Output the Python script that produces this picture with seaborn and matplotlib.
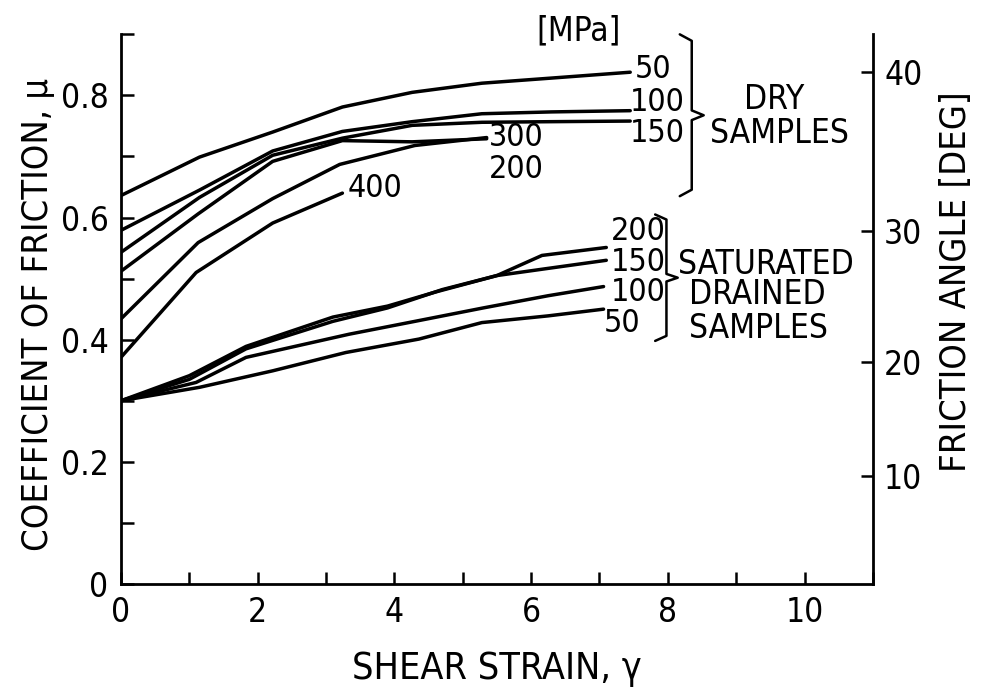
import numpy as np
import pandas as pd
import matplotlib
matplotlib.use("Agg")
import matplotlib.pyplot as plt
import seaborn as sns
from matplotlib import font_manager as fm

# ---------------- data ----------------
dry_50_x = [0, 1.15, 2.22, 3.24, 4.26, 5.28, 6.25, 7.45]
dry_50_y = [0.636, 0.699, 0.740, 0.781, 0.805, 0.820, 0.828, 0.838]
dry_100_x = [0, 1.15, 2.22, 3.24, 4.26, 5.28, 6.3, 7.45]
dry_100_y = [0.579, 0.645, 0.709, 0.741, 0.757, 0.770, 0.773, 0.775]
dry_150_x = [0, 1.15, 2.22, 3.24, 4.26, 5.28, 6.3, 7.45]
dry_150_y = [0.543, 0.633, 0.702, 0.730, 0.751, 0.756, 0.757, 0.758]
dry_200_x = [0, 1.13, 2.22, 3.24, 4.26, 5.35]
dry_200_y = [0.512, 0.606, 0.692, 0.726, 0.724, 0.729]
dry_300_x = [0, 1.13, 2.22, 3.2, 4.3, 5.35]
dry_300_y = [0.434, 0.559, 0.631, 0.687, 0.718, 0.731]
dry_400_x = [0, 1.1, 2.22, 3.24]
dry_400_y = [0.371, 0.510, 0.591, 0.640]

sat_50_x = [0, 1.15, 2.22, 3.29, 4.36, 5.28, 6.25, 7.06]
sat_50_y = [0.300, 0.322, 0.349, 0.379, 0.401, 0.428, 0.439, 0.450]
sat_100_x = [0, 1.1, 1.83, 3.34, 4.3, 5.3, 6.25, 7.06]
sat_100_y = [0.300, 0.330, 0.371, 0.409, 0.430, 0.452, 0.472, 0.487]
sat_150_x = [0, 1.0, 1.83, 3.1, 3.9, 4.7, 5.5, 6.2, 7.1]
sat_150_y = [0.300, 0.335, 0.385, 0.430, 0.452, 0.482, 0.505, 0.516, 0.530]
sat_200_x = [0, 1.0, 1.83, 3.1, 3.9, 4.6, 5.5, 6.16, 7.1]
sat_200_y = [0.300, 0.341, 0.389, 0.437, 0.455, 0.478, 0.505, 0.538, 0.551]

x_ticks = [0, 1, 2, 3, 4, 5, 6, 7, 8, 9, 10, 11]
x_labels = ["0", "", "2", "", "4", "", "6", "", "8", "", "10", ""]
y_ticks = [0, 0.1, 0.2, 0.3, 0.4, 0.5, 0.6, 0.7, 0.8, 0.9]
y_labels = ["0", "", "0.2", "", "0.4", "", "0.6", "", "0.8", ""]
angle_ticks = [10, 20, 30, 40]

series = {
    "dry 50": (dry_50_x, dry_50_y), "dry 100": (dry_100_x, dry_100_y),
    "dry 150": (dry_150_x, dry_150_y), "dry 200": (dry_200_x, dry_200_y),
    "dry 300": (dry_300_x, dry_300_y), "dry 400": (dry_400_x, dry_400_y),
    "sat 50": (sat_50_x, sat_50_y), "sat 100": (sat_100_x, sat_100_y),
    "sat 150": (sat_150_x, sat_150_y), "sat 200": (sat_200_x, sat_200_y),
}
rows = []
for name, (xs, ys) in series.items():
    for xv, yv in zip(xs, ys):
        rows.append({"series": name, "strain": xv, "mu": yv})
df = pd.DataFrame(rows)

# ---------------- style ----------------
sns.set_style("ticks")
plt.rcParams["font.family"] = ["DejaVu Sans"]
cond = any(f.name == "DejaVu Sans" and "Condensed" in f.fname for f in fm.fontManager.ttflist)
if cond:
    plt.rcParams["font.stretch"] = "condensed"
    FS = 24
else:
    FS = 20
LFS = FS + 2
NFS = FS - 1
for k in ["text.color", "axes.labelcolor", "xtick.color", "ytick.color", "axes.edgecolor"]:
    plt.rcParams[k] = "black"

fig = plt.figure(figsize=(9.83, 6.87), dpi=100)
ax = fig.add_axes([0.123, 0.150, 0.765, 0.800])

sns.lineplot(data=df, x="strain", y="mu", hue="series",
             palette=["black"] * len(series), units="series", estimator=None,
             sort=False, linewidth=2.5, legend=False, ax=ax)

ax.set_xlim(0, 11)
ax.set_ylim(0, 0.9)
ax.set_xticks(x_ticks)
ax.set_xticklabels(x_labels)
ax.set_yticks(y_ticks)
ax.set_yticklabels(y_labels)
ax.tick_params(direction="in", length=9, width=1.8, labelsize=FS, pad=9)
for s in ["left", "bottom"]:
    ax.spines[s].set_linewidth(2.0)
ax.spines["top"].set_visible(False)
ax.spines["right"].set_visible(False)
ax.set_xlabel("SHEAR STRAIN, γ", fontsize=LFS + 1)
ax.xaxis.set_label_coords(0.5, -0.122)
ax.set_ylabel("COEFFICIENT OF FRICTION, μ", fontsize=LFS)
ax.yaxis.set_label_coords(-0.088, 0.49)

ax2 = ax.twinx()
ax2.set_ylim(0, 0.9)
ax2.set_yticks([np.tan(np.radians(a)) for a in angle_ticks])
ax2.set_yticklabels([str(a) for a in angle_ticks])
ax2.tick_params(direction="in", length=9, width=1.8, labelsize=FS, pad=8)
ax2.spines["right"].set_linewidth(2.0)
for s in ["top", "left", "bottom"]:
    ax2.spines[s].set_visible(False)
ax2.set_ylabel("FRICTION ANGLE [DEG]", fontsize=LFS)
ax2.yaxis.set_label_coords(1.088, 0.55)

# ---------------- annotations ----------------
kw = dict(fontsize=FS, ha="center", va="center", clip_on=False)
nkw = dict(kw, fontsize=NFS)
ax.text(6.69, 0.905, "[MPa]", **kw)
ax.text(7.78, 0.843, "50", **nkw)
ax.text(7.85, 0.789, "100", **nkw)
ax.text(7.85, 0.737, "150", **nkw)
ax.text(5.79, 0.731, "300", **nkw)
ax.text(5.79, 0.679, "200", **nkw)
ax.text(3.72, 0.648, "400", **nkw)
ax.text(9.56, 0.793, "DRY", **kw)
ax.text(9.63, 0.738, "SAMPLES", **kw)

ax.text(7.57, 0.577, "200", **nkw)
ax.text(7.57, 0.527, "150", **nkw)
ax.text(7.57, 0.478, "100", **nkw)
ax.text(7.33, 0.427, "50", **nkw)
ax.text(9.43, 0.523, "SATURATED", **kw)
ax.text(9.31, 0.474, "DRAINED", **kw)
ax.text(9.33, 0.418, "SAMPLES", **kw)

# curly braces
def brace(x0, y_bot, y_top, width, lw=1.8):
    ymid = (y_bot + y_top) / 2
    h = y_top - y_bot
    xs = [x0 - width * 0.5, x0, x0, x0 + width * 0.5, x0, x0, x0 - width * 0.5]
    ys = [y_top, y_top - h * 0.04, ymid + h * 0.03, ymid, ymid - h * 0.03,
          y_bot + h * 0.04, y_bot]
    ax.plot(xs, ys, color="black", lw=lw, clip_on=False, solid_joinstyle="round")

brace(8.35, 0.635, 0.900, 0.35)
brace(7.98, 0.398, 0.605, 0.33)

fig.savefig("out.png", dpi=100)
